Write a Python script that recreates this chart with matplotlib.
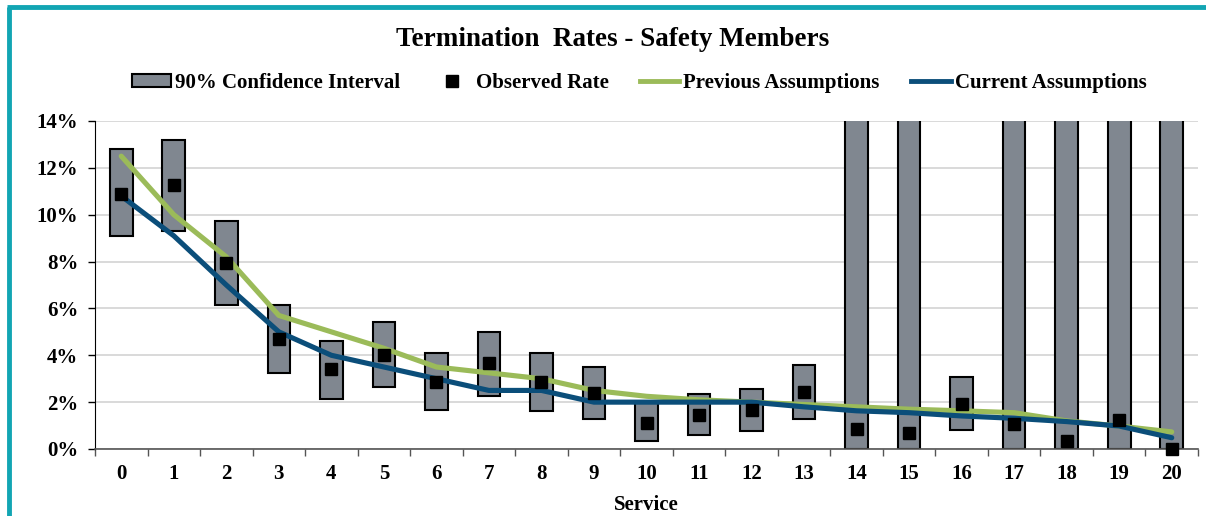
import matplotlib
matplotlib.use("Agg")
import matplotlib.pyplot as plt
from matplotlib.patches import Patch
from matplotlib.lines import Line2D
from matplotlib.ticker import FuncFormatter, MultipleLocator
import numpy as np

service = list(range(21))
# 90% confidence interval bounds (14-20 exceed the 14% axis limit)
ci_low = [0.091, 0.093, 0.0615, 0.0325, 0.0215, 0.0265, 0.0167, 0.0227, 0.0163, 0.0127,
          0.0034, 0.0058, 0.0077, 0.0126, 0.0, 0.0, 0.008, 0.0, 0.0, 0.0, 0.0]
ci_high = [0.128, 0.132, 0.0975, 0.0615, 0.046, 0.054, 0.041, 0.050, 0.041, 0.0348,
           0.020, 0.0234, 0.0258, 0.0357, 0.30, 0.30, 0.0308, 0.30, 0.30, 0.30, 0.30]
observed = [0.109, 0.1125, 0.0795, 0.047, 0.034, 0.040, 0.0287, 0.0365, 0.0287, 0.0237,
            0.0113, 0.0147, 0.0167, 0.0244, 0.0084, 0.0070, 0.0191, 0.0106, 0.0033, 0.0123, 0.0]
previous = [0.125, 0.100, 0.082, 0.057, 0.050, 0.043, 0.035, 0.0325, 0.030, 0.025,
            0.0225, 0.021, 0.020, 0.019, 0.018, 0.017, 0.0163, 0.0155, 0.012, 0.0098, 0.0073]
current = [0.108, 0.091, 0.070, 0.050, 0.040, 0.035, 0.030, 0.025, 0.025, 0.020,
           0.020, 0.020, 0.020, 0.018, 0.0163, 0.0155, 0.0141, 0.0131, 0.0117, 0.0098, 0.0048]

BAR_C = "#808790"
GREEN = "#9BBB59"
BLUE = "#0B4E7A"
TEAL = "#12A5B3"
FONT = "Liberation Serif"
FS = 15

plt.rcParams["font.family"] = [FONT, "DejaVu Serif"]
plt.rcParams["font.weight"] = "bold"

fig = plt.figure(figsize=(12.06, 5.16), dpi=100)
ax = fig.add_axes([95 / 1206, 1 - 449 / 516, (1198 - 95) / 1206, (449 - 121) / 516])

x = np.array(service)
low = np.array(ci_low)
high = np.array(ci_high)
ax.bar(x, high - low, bottom=low, width=0.43, color=BAR_C, edgecolor="black",
       linewidth=1.5, zorder=2)
ax.plot(x, previous, color=GREEN, lw=3.7, zorder=3, solid_capstyle="round")
ax.plot(x, current, color=BLUE, lw=3.7, zorder=4, solid_capstyle="round")
ax.plot(x, observed, ls="none", marker="s", ms=8.5, color="black", zorder=5, clip_on=False)

ax.set_xlim(-0.5, 20.5)
ax.set_ylim(0, 0.14)
ax.yaxis.set_major_locator(MultipleLocator(0.02))
ax.yaxis.set_major_formatter(FuncFormatter(lambda v, p: f"{v*100:.0f}%"))
ax.set_xticks(x)
ax.set_xticklabels([str(s) for s in service])
ax.set_xticks(np.arange(-0.5, 21, 1), minor=True)
ax.tick_params(axis="x", which="major", length=0, pad=11, labelsize=FS)
ax.tick_params(axis="x", which="minor", length=5, width=1, color="#555555", direction="out")
ax.tick_params(axis="y", which="major", length=5, width=1, direction="out", pad=7, labelsize=FS)
for lab in ax.get_xticklabels() + ax.get_yticklabels():
    lab.set_fontweight("bold")
ax.grid(axis="y", color="#D9D9D9", lw=1.4, zorder=0)
ax.set_axisbelow(True)
for s in ["top", "right"]:
    ax.spines[s].set_visible(False)
ax.spines["left"].set_color("black")
ax.spines["bottom"].set_color("#555555")
ax.spines["bottom"].set_linewidth(1.2)
ax.set_xlabel("Service", fontsize=FS, fontweight="bold", labelpad=8)

fig.text(0.508, 1 - 40 / 516, "Termination  Rates - Safety Members", ha="center", va="center",
         fontsize=19.5, fontweight="bold")

handles = [
    Patch(facecolor=BAR_C, edgecolor="black", linewidth=1.5),
    Line2D([], [], ls="none", marker="s", ms=8, color="black"),
    Line2D([], [], color=GREEN, lw=3.5),
    Line2D([], [], color=BLUE, lw=3.5),
]
labels = ["90% Confidence Interval", "Observed Rate", "Previous Assumptions", "Current Assumptions"]
fig.legend(handles, labels, loc="center", bbox_to_anchor=(0.530, 1 - 83 / 516), ncol=4,
           frameon=False, handlelength=1.9, handleheight=0.55, handletextpad=0.2,
           columnspacing=1.5, prop={"family": FONT, "weight": "bold", "size": FS})

# teal frame
fig.add_artist(Line2D([8.5 / 1206, 8.5 / 1206], [0, 1 - 7 / 516], transform=fig.transFigure,
                      color=TEAL, lw=3.5, solid_capstyle="butt"))
fig.add_artist(Line2D([7 / 1206, 1], [1 - 7 / 516, 1 - 7 / 516], transform=fig.transFigure,
                      color=TEAL, lw=3.5, solid_capstyle="butt"))

fig.savefig("out.png", dpi=100)
